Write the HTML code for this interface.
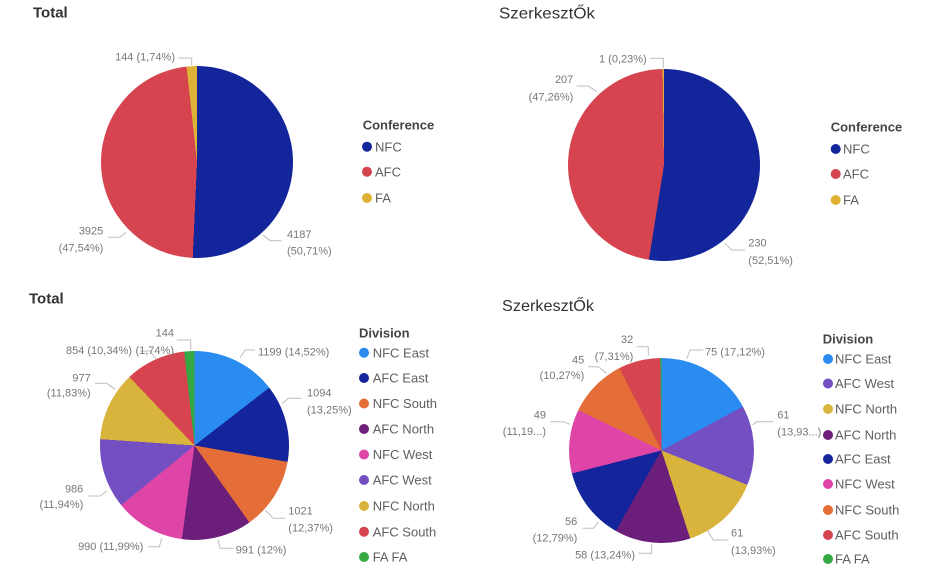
<!DOCTYPE html>
<html>
<head>
<meta charset="utf-8">
<style>
  html, body { margin:0; padding:0; background:#ffffff; }
  #wrap { position:relative; width:941px; height:575px; overflow:hidden; background:#fff; }
  .pie { position:absolute; border-radius:50%; }
  svg { position:absolute; left:0; top:0; }
  text { font-family:"Liberation Sans", "Noto Sans CJK JP", sans-serif; }
  .lbl { font-size:11px; fill:#777777; }
  .leg { font-size:13px; fill:#5f5f5f; }
  .legh { font-size:13px; font-weight:bold; fill:#454545; }
  .ttl { font-size:15px; font-weight:bold; fill:#333333; }
  .ttl2 { font-size:16px; fill:#333333; }
  .ln { stroke:#bdbdbd; stroke-width:1; fill:none; }
</style>
</head>
<body>
<div id="wrap">
  <!-- Top-left pie -->
  <div class="pie" style="left:101px; top:66px; width:192px; height:192px;
    background:conic-gradient(#13259B 0% 50.71%, #D5444F 50.71% 98.26%, #DDB235 98.26% 100%);"></div>
  <!-- Top-right pie -->
  <div class="pie" style="left:568px; top:68.5px; width:192px; height:192px;
    background:conic-gradient(#13259B 0% 52.51%, #D5444F 52.51% 99.77%, #DDB235 99.77% 100%);"></div>
  <!-- Bottom-left pie -->
  <div class="pie" style="left:99.5px; top:350.5px; width:189px; height:189px;
    background:conic-gradient(#2A8CF0 0% 14.52%, #14259C 14.52% 27.77%, #E56D37 27.77% 40.14%, #6C1F7A 40.14% 52.14%, #DF45A7 52.14% 64.13%, #744FC2 64.13% 76.07%, #D9B43C 76.07% 87.90%, #D5444F 87.90% 98.26%, #35A844 98.26% 100%);"></div>
  <!-- Bottom-right pie -->
  <div class="pie" style="left:569px; top:357.5px; width:185px; height:185px;
    background:conic-gradient(#2A8CF0 0% 17.12%, #744FC2 17.12% 31.05%, #D9B43C 31.05% 44.98%, #6C1F7A 44.98% 58.22%, #14259C 58.22% 71.01%, #DF45A7 71.01% 82.20%, #E56D37 82.20% 92.47%, #D5444F 92.47% 99.77%, #35A844 99.77% 100%);"></div>

  <svg width="941" height="575" viewBox="0 0 941 575" xmlns="http://www.w3.org/2000/svg">
    <!-- Titles -->
    <text class="ttl" x="33" y="17.5">Total</text>
    <text class="ttl2" x="499" y="18.5" textLength="96" lengthAdjust="spacingAndGlyphs">SzerkesztŐk</text>
    <text class="ttl" x="29" y="303.5">Total</text>
    <text class="ttl2" x="502" y="311" textLength="92" lengthAdjust="spacingAndGlyphs">SzerkesztŐk</text>

    <!-- Top-left labels -->
    <polyline class="ln" points="178.3,58 191.7,58 191.7,65"/>
    <text class="lbl" x="175" y="60.7" text-anchor="end">144 (1,74%)</text>
    <polyline class="ln" points="108.3,237.3 120,237.3 126,232.3"/>
    <text class="lbl" x="103.3" y="234.7" text-anchor="end">3925</text>
    <text class="lbl" x="103.3" y="251.3" text-anchor="end">(47,54%)</text>
    <polyline class="ln" points="263,235 270,240.7 281.7,240.7"/>
    <text class="lbl" x="287" y="238">4187</text>
    <text class="lbl" x="287" y="254.7">(50,71%)</text>

    <!-- Top-left legend -->
    <text class="legh" x="362.7" y="129.7">Conference</text>
    <circle cx="367" cy="146.7" r="5" fill="#13259B"/>
    <text class="leg" x="375" y="151.3">NFC</text>
    <circle cx="367" cy="171.7" r="5" fill="#D5444F"/>
    <text class="leg" x="375" y="176.3">AFC</text>
    <circle cx="367" cy="198" r="5" fill="#DDB235"/>
    <text class="leg" x="375" y="202.6">FA</text>

    <!-- Top-right labels -->
    <polyline class="ln" points="650,58.3 663.3,58.3 663.3,68.3"/>
    <text class="lbl" x="646.7" y="62.3" text-anchor="end">1 (0,23%)</text>
    <polyline class="ln" points="576.7,86 588.3,86 596.7,91.7"/>
    <text class="lbl" x="573.3" y="83" text-anchor="end">207</text>
    <text class="lbl" x="573.3" y="100.7" text-anchor="end">(47,26%)</text>
    <polyline class="ln" points="725,243.3 731.7,250 745,250"/>
    <text class="lbl" x="748.3" y="246.3">230</text>
    <text class="lbl" x="748.3" y="264">(52,51%)</text>

    <!-- Top-right legend -->
    <text class="legh" x="830.7" y="131.4">Conference</text>
    <circle cx="835.7" cy="149" r="5" fill="#13259B"/>
    <text class="leg" x="843" y="153.6">NFC</text>
    <circle cx="835.7" cy="174" r="5" fill="#D5444F"/>
    <text class="leg" x="843" y="178.6">AFC</text>
    <circle cx="835.7" cy="200" r="5" fill="#DDB235"/>
    <text class="leg" x="843" y="204.6">FA</text>

    <!-- Bottom-left labels -->
    <polyline class="ln" points="176.7,340 190.7,340 190.7,350"/>
    <text class="lbl" x="174" y="336.7" text-anchor="end">144</text>
    <polyline class="ln" points="140,351 150,351 156,359"/>
    <text class="lbl" x="132" y="354" text-anchor="end">854 (10,34%)</text>
    <text class="lbl" x="174" y="354" text-anchor="end">(1,74%)</text>
    <polyline class="ln" points="240,358 245,350 255,350"/>
    <text class="lbl" x="258" y="355.7">1199 (14,52%)</text>
    <polyline class="ln" points="281.7,404 288.3,398.3 301.7,398.3"/>
    <text class="lbl" x="307" y="396.7">1094</text>
    <text class="lbl" x="307" y="413.3">(13,25%)</text>
    <polyline class="ln" points="95,383.3 106.7,383.3 115,389.3"/>
    <text class="lbl" x="90.7" y="381.3" text-anchor="end">977</text>
    <text class="lbl" x="90.7" y="396.3" text-anchor="end">(11,83%)</text>
    <polyline class="ln" points="88.3,496 100,496 106.7,491"/>
    <text class="lbl" x="83.3" y="492.3" text-anchor="end">986</text>
    <text class="lbl" x="83.3" y="508" text-anchor="end">(11,94%)</text>
    <polyline class="ln" points="148.3,546.7 159.3,546.7 161.7,538.3"/>
    <text class="lbl" x="143.3" y="550" text-anchor="end">990 (11,99%)</text>
    <polyline class="ln" points="218.3,540 220,548.3 233.3,548.3"/>
    <text class="lbl" x="235.7" y="553.3">991 (12%)</text>
    <polyline class="ln" points="265,510 273.3,518.3 285,518.3"/>
    <text class="lbl" x="288.3" y="514.7">1021</text>
    <text class="lbl" x="288.3" y="531.3">(12,37%)</text>

    <!-- Bottom-left legend -->
    <text class="legh" x="359" y="337.7">Division</text>
    <circle cx="364" cy="352.7" r="5" fill="#2A8CF0"/><text class="leg" x="372.7" y="357.3">NFC East</text>
    <circle cx="364" cy="378" r="5" fill="#14259C"/><text class="leg" x="372.7" y="382.6">AFC East</text>
    <circle cx="364" cy="403.5" r="5" fill="#E56D37"/><text class="leg" x="372.7" y="408.1">NFC South</text>
    <circle cx="364" cy="429" r="5" fill="#6C1F7A"/><text class="leg" x="372.7" y="433.6">AFC North</text>
    <circle cx="364" cy="454.5" r="5" fill="#DF45A7"/><text class="leg" x="372.7" y="459.1">NFC West</text>
    <circle cx="364" cy="480" r="5" fill="#744FC2"/><text class="leg" x="372.7" y="484.6">AFC West</text>
    <circle cx="364" cy="506" r="5" fill="#D9B43C"/><text class="leg" x="372.7" y="510.6">NFC North</text>
    <circle cx="364" cy="531.7" r="5" fill="#D5444F"/><text class="leg" x="372.7" y="536.3">AFC South</text>
    <circle cx="364" cy="557" r="5" fill="#35A844"/><text class="leg" x="372.7" y="561.6">FA FA</text>

    <!-- Bottom-right labels -->
    <polyline class="ln" points="636.7,346.7 648.3,346.7 648.3,355.7"/>
    <text class="lbl" x="633.3" y="343" text-anchor="end">32</text>
    <text class="lbl" x="633.3" y="360" text-anchor="end">(7,31%)</text>
    <polyline class="ln" points="588.3,366.7 598.3,366.7 606.7,373.3"/>
    <text class="lbl" x="584.3" y="363.3" text-anchor="end">45</text>
    <text class="lbl" x="584.3" y="379" text-anchor="end">(10,27%)</text>
    <polyline class="ln" points="686.7,359 690,350 703.3,350"/>
    <text class="lbl" x="705" y="355.7">75 (17,12%)</text>
    <polyline class="ln" points="550,421.7 563.3,421.7 570,424.3"/>
    <text class="lbl" x="546" y="418.3" text-anchor="end">49</text>
    <text class="lbl" x="546" y="435" text-anchor="end">(11,19...)</text>
    <polyline class="ln" points="752.7,425 756.7,421.7 773.3,421.7"/>
    <text class="lbl" x="777.3" y="418.3">61</text>
    <text class="lbl" x="777.3" y="435.7">(13,93...)</text>
    <polyline class="ln" points="582.7,528.3 593.3,528.3 598.3,522.3"/>
    <text class="lbl" x="577.3" y="525" text-anchor="end">56</text>
    <text class="lbl" x="577.3" y="541.7" text-anchor="end">(12,79%)</text>
    <polyline class="ln" points="638.3,553.3 651.7,553.3 651.7,544.3"/>
    <text class="lbl" x="635" y="558.3" text-anchor="end">58 (13,24%)</text>
    <polyline class="ln" points="707.3,530 713.3,540 728.3,540"/>
    <text class="lbl" x="731" y="536.3">61</text>
    <text class="lbl" x="731" y="554">(13,93%)</text>

    <!-- Bottom-right legend -->
    <text class="legh" x="822.7" y="343.7">Division</text>
    <circle cx="828" cy="359" r="5" fill="#2A8CF0"/><text class="leg" x="835" y="363.6">NFC East</text>
    <circle cx="828" cy="383.5" r="5" fill="#744FC2"/><text class="leg" x="835" y="388.1">AFC West</text>
    <circle cx="828" cy="409" r="5" fill="#D9B43C"/><text class="leg" x="835" y="413.6">NFC North</text>
    <circle cx="828" cy="435" r="5" fill="#6C1F7A"/><text class="leg" x="835" y="439.6">AFC North</text>
    <circle cx="828" cy="459" r="5" fill="#14259C"/><text class="leg" x="835" y="463.6">AFC East</text>
    <circle cx="828" cy="484" r="5" fill="#DF45A7"/><text class="leg" x="835" y="488.6">NFC West</text>
    <circle cx="828" cy="510" r="5" fill="#E56D37"/><text class="leg" x="835" y="514.6">NFC South</text>
    <circle cx="828" cy="535" r="5" fill="#D5444F"/><text class="leg" x="835" y="539.6">AFC South</text>
    <circle cx="828" cy="559" r="5" fill="#35A844"/><text class="leg" x="835" y="563.6">FA FA</text>
  </svg>
</div>
</body>
</html>
